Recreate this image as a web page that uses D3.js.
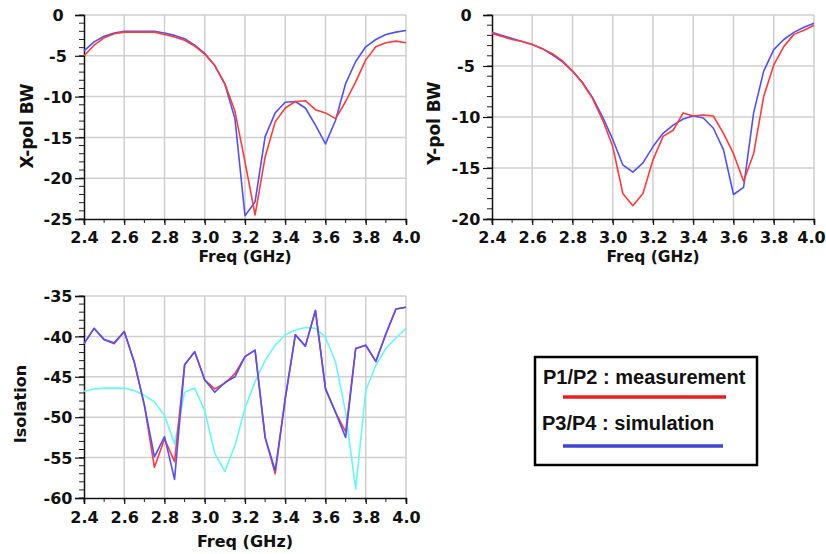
<!DOCTYPE html>
<html>
<head>
<meta charset="utf-8">
<script src="https://cdn.jsdelivr.net/npm/d3@7"></script>
<style>
  body { margin: 0; background: #fff; }
  svg { display: block; }
</style>
</head>
<body>
<svg id="chart" width="826" height="554"></svg>
<script>
const freq = [2.40, 2.45, 2.50, 2.55, 2.60, 2.65, 2.70, 2.75, 2.80, 2.85, 2.90, 2.95, 3.00, 3.05, 3.10, 3.15,
  3.20, 3.25, 3.30, 3.35, 3.40, 3.45, 3.50, 3.55, 3.60, 3.65, 3.70, 3.75, 3.80, 3.85, 3.90, 3.95, 4.00]

// X-pol BW
const xpolMeas = [-5.0, -3.7, -2.8, -2.3, -2.1, -2.1, -2.1, -2.1, -2.4, -2.7, -3.1, -3.8, -4.8, -6.2, -8.4, -11.8,
  -18.0, -24.5, -17.4, -13.1, -11.4, -10.6, -10.5, -11.6, -12.0, -12.7, -10.6, -8.2, -5.5, -3.9, -3.4, -3.2, -3.4]
const xpolSim = [-4.4, -3.3, -2.6, -2.2, -2.0, -2.0, -2.0, -2.0, -2.2, -2.5, -2.9, -3.7, -4.7, -6.2, -8.5, -12.7,
  -24.6, -22.9, -14.9, -12.0, -10.7, -10.6, -11.4, -13.5, -15.8, -12.9, -8.4, -5.7, -3.9, -3.0, -2.4, -2.1, -1.9]

// Y-pol BW
const ypolMeas = [-1.8, -2.1, -2.4, -2.6, -2.9, -3.3, -3.8, -4.5, -5.5, -6.7, -8.2, -10.3, -12.9, -17.5, -18.7, -17.5,
  -14.2, -11.9, -11.3, -9.6, -9.9, -9.8, -9.9, -11.6, -13.6, -16.3, -13.6, -8.0, -4.9, -3.1, -1.9, -1.5, -1.0]
const ypolSim = [-1.7, -2.0, -2.3, -2.6, -2.9, -3.3, -3.9, -4.6, -5.5, -6.6, -8.1, -10.0, -12.2, -14.7, -15.4, -14.5,
  -12.9, -11.6, -10.8, -10.2, -9.9, -10.1, -11.1, -13.2, -17.6, -16.9, -9.6, -5.5, -3.4, -2.4, -1.7, -1.2, -0.8]

// Isolation
const isoMeas = [-40.9, -39.0, -40.4, -40.9, -39.4, -43.2, -48.5, -56.2, -52.7, -55.5, -43.5, -41.9, -45.4, -46.5, -45.8, -44.6,
  -42.5, -41.7, -52.5, -57.0, -47.7, -39.8, -41.2, -36.8, -46.5, -49.4, -51.8, -41.5, -41.1, -43.1, -39.7, -36.6, -36.4]
const isoSim = [-40.9, -39.0, -40.4, -40.8, -39.4, -43.2, -48.5, -54.9, -52.4, -57.7, -43.5, -41.9, -45.4, -46.9, -45.7, -45.0,
  -42.5, -41.7, -52.5, -56.6, -47.7, -39.8, -41.2, -36.8, -46.5, -49.4, -52.5, -41.5, -41.1, -43.1, -39.7, -36.6, -36.4]
const isoRef = [-46.8, -46.5, -46.4, -46.4, -46.4, -46.7, -47.3, -48.1, -49.8, -53.3, -46.9, -46.4, -49.2, -54.5, -56.7, -53.5,
  -48.9, -45.6, -43.0, -41.1, -39.8, -39.2, -38.9, -39.0, -40.1, -43.2, -49.4, -58.9, -46.7, -43.6, -41.5, -40.2, -39.0]

const xTicks = [2.4, 2.6, 2.8, 3.0, 3.2, 3.4, 3.6, 3.8, 4.0]
const legendLabels = ["P1/P2 : measurement", "P3/P4 : simulation"]

const RED = "#ff3b3b", BLUE = "#5050ff", CYAN = "#66f7f7"
const AXIS_FONT = "'DejaVu Sans', Verdana, sans-serif"

const svg = d3.select("#chart")

function panel (opt) {
  const { left, right, top, bottom, yDomain, yTitle, titleSize, titlePos, xTitleY, xTitleSize, tickDy, lastShift, series } = opt
  const x = d3.scaleLinear().domain([2.4, 4.0]).range([left, right])
  const y = d3.scaleLinear().domain(yDomain).range([bottom, top])
  const g = svg.append("g")

  const yMajor = d3.range(yDomain[0], yDomain[1] + 0.01, 5)
  const yMinor = d3.range(yDomain[0], yDomain[1] + 0.01, 1)
  const xMinor = d3.range(2.4, 4.001, 0.1)

  // grid
  g.selectAll(".vg").data(xTicks.slice(1)).join("line")
    .attr("x1", d => x(d)).attr("x2", d => x(d))
    .attr("y1", top).attr("y2", bottom)
    .attr("stroke", "#cfcfcf").attr("stroke-width", 1.5)
  g.selectAll(".hg").data(yMajor.slice(1)).join("line")
    .attr("x1", left).attr("x2", right)
    .attr("y1", d => y(d)).attr("y2", d => y(d))
    .attr("stroke", "#cfcfcf").attr("stroke-width", 1.5)

  // minor ticks
  g.selectAll(".ymin").data(yMinor).join("line")
    .attr("x1", left - 5).attr("x2", left)
    .attr("y1", d => y(d)).attr("y2", d => y(d))
    .attr("stroke", "#222").attr("stroke-width", 1)
  g.selectAll(".xmin").data(xMinor).join("line")
    .attr("x1", d => x(d)).attr("x2", d => x(d))
    .attr("y1", bottom).attr("y2", bottom + 4)
    .attr("stroke", "#222").attr("stroke-width", 1)

  // axes
  const xAxis = d3.axisBottom(x).tickValues(xTicks).tickFormat(d3.format(".1f")).tickSize(6).tickPadding(6)
  const gx = g.append("g").attr("transform", `translate(0,${bottom})`).call(xAxis)
  gx.select(".domain").attr("stroke", "#111").attr("stroke-width", 1.5)
  gx.selectAll(".tick line").attr("stroke", "#111").attr("stroke-width", 1.2)
  gx.selectAll(".tick text").attr("fill", "#111").attr("dy", tickDy)
    .attr("dx", d => d === 4.0 ? lastShift : 0)
    .style("font-family", AXIS_FONT).style("font-weight", "bold").style("font-size", "16px")

  const yAxis = d3.axisLeft(y).tickValues(yMajor).tickFormat(d3.format("d")).tickSize(9).tickPadding(0)
  const gy = g.append("g").attr("transform", `translate(${left},0)`).call(yAxis)
  gy.select(".domain").attr("stroke", "#111").attr("stroke-width", 1.5)
  gy.selectAll(".tick line").attr("stroke", "#111").attr("stroke-width", 1.2)
  gy.selectAll(".tick text").attr("fill", "#111")
    .attr("text-anchor", "middle").attr("x", -26).attr("dy", "0.36em")
    .style("font-family", AXIS_FONT).style("font-weight", "bold").style("font-size", "16px")
    .text(d => d === 0 ? "0" : "-" + Math.abs(d))

  // titles
  g.append("text").attr("x", (left + right) / 2).attr("y", xTitleY)
    .attr("text-anchor", "middle").attr("fill", "#111")
    .style("font-family", AXIS_FONT).style("font-weight", "bold").style("font-size", xTitleSize + "px")
    .text("Freq (GHz)")
  g.append("text").attr("transform", `translate(${titlePos[0]},${titlePos[1]}) rotate(-90)`)
    .attr("text-anchor", "middle").attr("dy", "0.36em").attr("fill", "#111")
    .style("font-family", AXIS_FONT).style("font-weight", "bold").style("font-size", titleSize + "px")
    .text(yTitle)

  // lines
  const line = d3.line().x((d, i) => x(freq[i])).y(d => y(d))
  series.forEach(s => {
    g.append("path").datum(s.values)
      .attr("d", line).attr("fill", "none")
      .attr("stroke", s.color).attr("stroke-width", 1.6)
      .attr("stroke-linejoin", "round")
  })
}

panel({ left: 84, right: 406, top: 15, bottom: 219, yDomain: [-25, 0], yTitle: "X-pol BW",
  titleSize: 17, titlePos: [27, 126], xTitleY: 261.5, xTitleSize: 15.5, tickDy: 12, lastShift: 0,
  series: [{ values: xpolSim, color: BLUE }, { values: xpolMeas, color: RED }] })

panel({ left: 492, right: 814, top: 15, bottom: 219, yDomain: [-20, 0], yTitle: "Y-pol BW",
  titleSize: 17, titlePos: [434, 123], xTitleY: 261.5, xTitleSize: 15.5, tickDy: 12, lastShift: -3,
  series: [{ values: ypolSim, color: BLUE }, { values: ypolMeas, color: RED }] })

panel({ left: 84, right: 406, top: 296, bottom: 498, yDomain: [-60, -35], yTitle: "Isolation",
  titleSize: 16, titlePos: [20, 404], xTitleY: 547, xTitleSize: 16, tickDy: 13, lastShift: 0,
  series: [{ values: isoRef, color: CYAN }, { values: isoMeas, color: RED }, { values: isoSim, color: BLUE }] })

// legend
const lg = svg.append("g")
lg.append("rect").attr("x", 535).attr("y", 357).attr("width", 222).attr("height", 108)
  .attr("fill", "#fff").attr("stroke", "#000").attr("stroke-width", 2.5)
lg.selectAll(".lt").data(legendLabels).join("text")
  .attr("x", (d, i) => i === 0 ? 543 : 542)
  .attr("y", (d, i) => i === 0 ? 384 : 430)
  .attr("fill", "#111")
  .style("font-family", "'Liberation Sans', Arial, sans-serif").style("font-weight", "bold")
  .style("font-size", "20px")
  .text(d => d)
lg.selectAll(".ll").data([RED, BLUE]).join("line")
  .attr("x1", 563).attr("x2", (d, i) => i === 0 ? 726 : 723)
  .attr("y1", (d, i) => i === 0 ? 397 : 446).attr("y2", (d, i) => i === 0 ? 397 : 446)
  .attr("stroke", d => d === RED ? "#ee1c1c" : "#3c46d2").attr("stroke-width", 3.5)
</script>
</body>
</html>
